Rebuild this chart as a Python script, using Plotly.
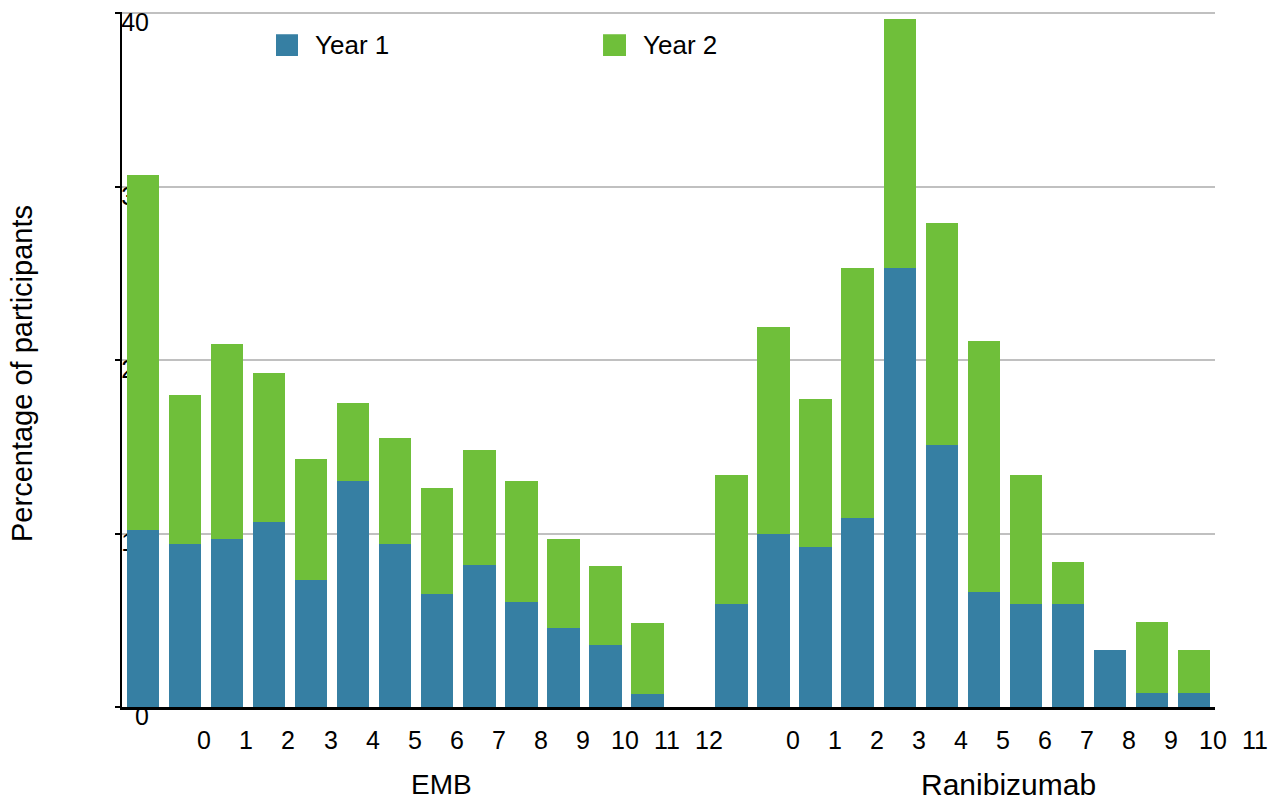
import plotly.graph_objects as go

# ---- data ----
emb_labels = ["0", "1", "2", "3", "4", "5", "6", "7", "8", "9", "10", "11", "12"]
ran_labels = ["0", "1", "2", "3", "4", "5", "6", "7", "8", "9", "10", "11"]
emb_year1 = [10.2, 9.4, 9.7, 10.65, 7.3, 13.05, 9.4, 6.5, 8.2, 6.05, 4.55, 3.55, 0.75]
emb_total = [30.7, 18.0, 20.95, 19.25, 14.3, 17.55, 15.5, 12.65, 14.8, 13.05, 9.7, 8.15, 4.85]
ran_year1 = [5.95, 10.0, 9.25, 10.9, 25.3, 15.1, 6.65, 5.95, 5.95, 3.3, 0.8, 0.8]
ran_total = [13.4, 21.9, 17.75, 25.3, 39.7, 27.9, 21.1, 13.4, 8.35, 3.3, 4.9, 3.3]
group_names = ["EMB", "Ranibizumab"]
series_names = ["Year 1", "Year 2"]
y_ticks = [0, 10, 20, 30, 40]

BLUE = "#367fa3"
GREEN = "#6fbf3a"
FONT = "Liberation Sans, Arial, sans-serif"

# slot positions: EMB 0..12, gap, Ranibizumab 14..25
emb_pos = list(range(len(emb_labels)))
ran_start = len(emb_labels) + 1
ran_pos = [ran_start + i for i in range(len(ran_labels))]
positions = emb_pos + ran_pos
year1 = emb_year1 + ran_year1
year2 = [round(t - a, 3) for t, a in zip(emb_total + ran_total, emb_year1 + ran_year1)]
labels = emb_labels + ran_labels

X_RANGE = [-0.5, 25.5]
span = X_RANGE[1] - X_RANGE[0]

fig = go.Figure()
fig.add_trace(go.Bar(x=positions, y=year1, name=series_names[0], marker_color=BLUE,
                     marker_line_width=0, width=0.77, showlegend=False))
fig.add_trace(go.Bar(x=positions, y=year2, name=series_names[1], marker_color=GREEN,
                     marker_line_width=0, width=0.77, showlegend=False))

LABEL_SHIFT = 1.46
annotations = []
for p, lab in zip(positions, labels):
    annotations.append(dict(x=(p + LABEL_SHIFT - X_RANGE[0]) / span, xref="paper",
                            y=-0.0475, yref="paper",
                            text=lab, showarrow=False, xanchor="center", yanchor="middle",
                            font=dict(size=25, color="black", family=FONT)))
annotations.append(dict(x=0.2925, xref="paper", y=-0.112, yref="paper", text=group_names[0],
                        showarrow=False, xanchor="center", yanchor="middle",
                        font=dict(size=28, color="black", family=FONT)))
annotations.append(dict(x=0.8115, xref="paper", y=-0.112, yref="paper", text=group_names[1],
                        showarrow=False, xanchor="center", yanchor="middle",
                        font=dict(size=30, color="black", family=FONT)))
annotations.append(dict(x=-0.0915, xref="paper", y=0.4806, yref="paper",
                        text="Percentage of participants", textangle=-90,
                        showarrow=False, xanchor="center", yanchor="middle",
                        font=dict(size=29, color="black", family=FONT)))
# legend
annotations.append(dict(x=0.1747, xref="paper", y=0.9525, yref="paper", text=series_names[0],
                        showarrow=False, xanchor="left", yanchor="middle",
                        font=dict(size=26, color="black", family=FONT)))
annotations.append(dict(x=0.4748, xref="paper", y=0.9525, yref="paper", text=series_names[1],
                        showarrow=False, xanchor="left", yanchor="middle",
                        font=dict(size=26, color="black", family=FONT)))
shapes = [
    dict(type="rect", xref="paper", yref="paper", x0=0.1409, x1=0.161, y0=0.9367, y1=0.968,
         fillcolor=BLUE, line_width=0),
    dict(type="rect", xref="paper", yref="paper", x0=0.4401, x1=0.4611, y0=0.9367, y1=0.968,
         fillcolor=GREEN, line_width=0),
]

fig.update_layout(
    width=1282, height=804,
    margin=dict(l=122, r=67, t=12, b=97),
    barmode="stack",
    plot_bgcolor="white", paper_bgcolor="white",
    font=dict(family=FONT, color="black"),
    annotations=annotations, shapes=shapes,
    showlegend=False,
)
fig.update_xaxes(range=X_RANGE, showline=True, linecolor="black", linewidth=2.5,
                 showticklabels=False, ticks="", showgrid=False, zeroline=False,
                 fixedrange=True)
fig.update_yaxes(range=[0, 40.08], tickvals=y_ticks, ticks="outside", ticklen=5, tickwidth=2,
                 tickcolor="black", showline=True, linecolor="black", linewidth=2,
                 gridcolor="#c0c0c0", gridwidth=2, zeroline=False, layer="below traces",
                 ticklabelstandoff=-39, ticklabelshift=9, automargin=False,
                 tickfont=dict(size=25, color="black", family=FONT))

fig.write_html("out.html", config={"displayModeBar": False},
               post_script="document.body.style.margin='0';document.body.style.overflow='hidden';")
